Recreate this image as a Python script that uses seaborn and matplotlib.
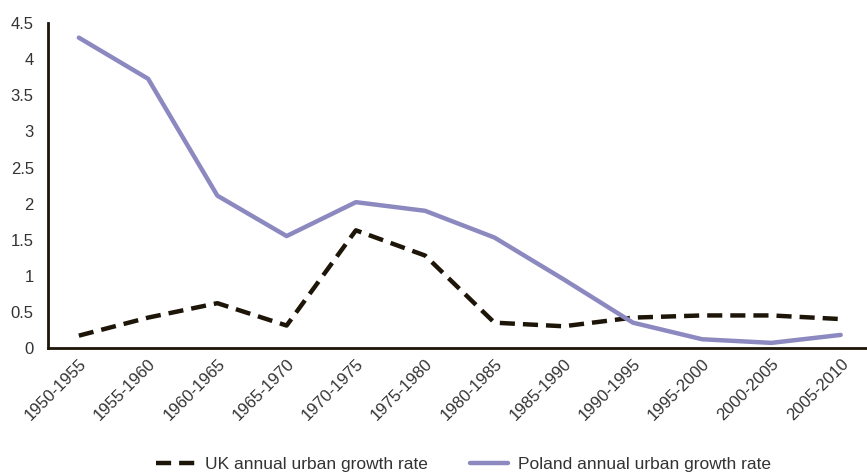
"""
UK vs Poland annual urban growth rate, 1950-2010
"""

import pandas as pd
import seaborn as sns
import matplotlib.pyplot as plt

periods = ["1950-1955", "1955-1960", "1960-1965", "1965-1970", "1970-1975", "1975-1980",
           "1980-1985", "1985-1990", "1990-1995", "1995-2000", "2000-2005", "2005-2010"]
uk_rate = [0.17, 0.42, 0.62, 0.31, 1.63, 1.28, 0.35, 0.30, 0.42, 0.45, 0.45, 0.40]
poland_rate = [4.30, 3.73, 2.11, 1.55, 2.02, 1.90, 1.53, 0.95, 0.35, 0.12, 0.07, 0.18]

uk_label = "UK annual urban growth rate"
pl_label = "Poland annual urban growth rate"

sns.set_style("white")
plt.rcParams["font.family"] = ["Liberation Sans", "DejaVu Sans"]

df = pd.DataFrame({"period": periods, "uk": uk_rate, "poland": poland_rate})

fig = plt.figure(figsize=(8.67, 4.74), dpi=100)
ax = fig.add_axes([0.055, 0.266, 0.945, 0.685])

sns.lineplot(data=df, x="period", y="uk", ax=ax, color="#1e1509", linewidth=3.2,
             label=uk_label, sort=False)
ax.lines[-1].set_dashes((3.4, 1.8))
sns.lineplot(data=df, x="period", y="poland", ax=ax, color="#8b89c0", linewidth=3.2,
             label=pl_label, sort=False)

ax.set_ylim(0, 4.5)
ax.set_xlim(-0.45, 11.38)
ax.set_yticks([0, 0.5, 1, 1.5, 2, 2.5, 3, 3.5, 4, 4.5])
ax.set_yticklabels(["0", "0.5", "1", "1.5", "2", "2.5", "3", "3.5", "4", "4.5"])
ax.set_xlabel("")
ax.set_ylabel("")
ax.tick_params(axis="both", length=0, labelsize=12, labelcolor="#333333")
ax.tick_params(axis="y", pad=10)
ax.tick_params(axis="x", pad=6)
plt.setp(ax.get_xticklabels(), rotation=45, ha="right", rotation_mode="anchor")

for side in ["top", "right"]:
    ax.spines[side].set_visible(False)
for side in ["left", "bottom"]:
    ax.spines[side].set_color("#1e1509")
    ax.spines[side].set_linewidth(2)

ax.get_legend().remove()
handles, labels = ax.get_legend_handles_labels()
fig.legend(handles, labels, loc="center", bbox_to_anchor=(0.535, 0.021), ncol=2,
           frameon=False, fontsize=12.5, handlelength=2.2, columnspacing=2.4,
           handletextpad=0.6, labelcolor="#333333")

fig.savefig("out.png", dpi=100)
plt.close(fig)
